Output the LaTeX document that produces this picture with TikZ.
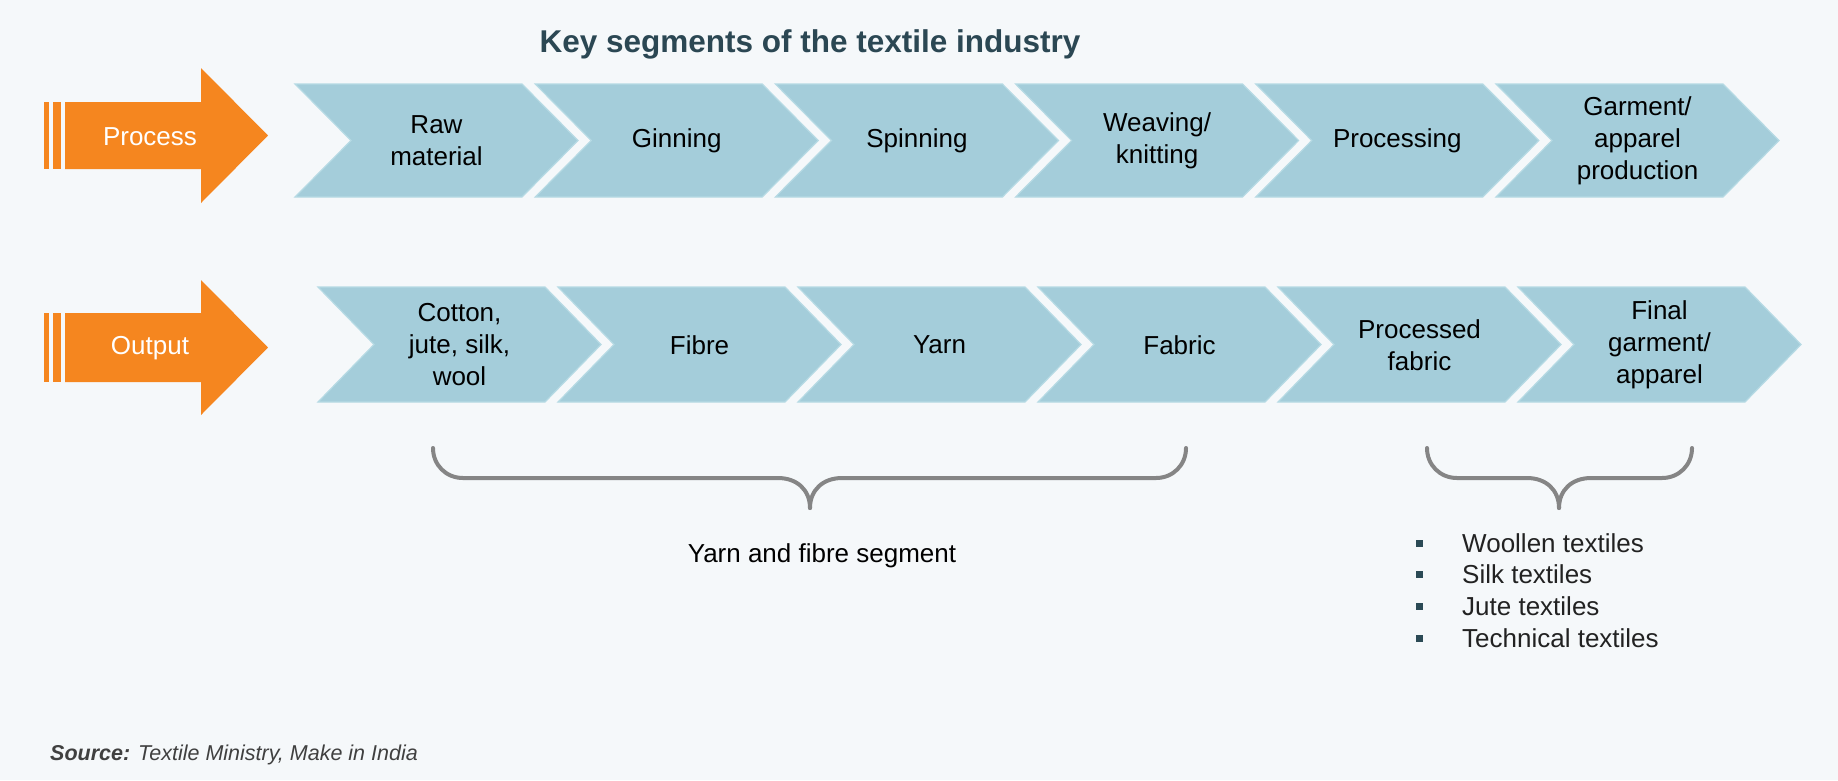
\documentclass[tikz,border=0pt]{standalone}
\usepackage{fontspec}
\setmainfont{Liberation Sans}
\definecolor{bg}{HTML}{F5F8FA}
\definecolor{chev}{HTML}{A4CDDA}
\definecolor{chevedge}{HTML}{B6DAE4}
\definecolor{orng}{HTML}{F5861F}
\definecolor{titlec}{HTML}{2B4753}
\definecolor{bracec}{HTML}{858585}
\definecolor{bulletc}{HTML}{2B4A55}
\definecolor{srcc}{HTML}{404040}
\definecolor{listc}{HTML}{222222}
\begin{document}
\begin{tikzpicture}[x=1pt,y=-1pt,
  lbl/.style={font=\fontsize{26}{32}\selectfont, align=center, text=black, inner sep=0pt},
  arrlbl/.style={font=\fontsize{26}{31}\selectfont, text=white, inner sep=0pt},
  chevshape/.style={fill=chev, draw=chevedge, line width=1.2pt},
  bracepath/.style={draw=bracec, line width=4pt, line cap=round},
  listtxt/.style={font=\fontsize{26}{31}\selectfont, text=listc, inner sep=0pt, anchor=base west},
  bulletsq/.style={fill=bulletc}
]
\fill[bg] (0,0) rectangle (1838,780);
\useasboundingbox (0,0) rectangle (1838,780);

% title
\node[font=\bfseries\fontsize{31.5}{36}\selectfont, text=titlec, anchor=base, inner sep=0pt] (title) at (810,52) {Key segments of the textile industry};

% orange arrows
\fill[orng] (44,102) rectangle (48.6,169);
\fill[orng] (52.8,102) rectangle (61.2,169);
\fill[orng] (65,102) -- (201,102) -- (201,68) -- (268,135.5) -- (201,203) -- (201,169) -- (65,169) -- cycle;
\node[arrlbl] (process) at (150,137) {Process};

\fill[orng] (44,313) rectangle (48.6,382);
\fill[orng] (52.8,313) rectangle (61.2,382);
\fill[orng] (65,313) -- (201,313) -- (201,280) -- (268,347.5) -- (201,415) -- (201,382) -- (65,382) -- cycle;
\node[arrlbl] (output) at (150,348) {Output};

% process chevrons
\foreach \i/\txt in {0/{Raw\\material},1/{Ginning},2/{Spinning},3/{Weaving/\\knitting},4/{Processing},5/{Garment/\\apparel\\production}}{
  \pgfmathsetmacro\sx{295+240.2*\i}
  \path[chevshape] (\sx,84) -- ++(227,0) -- ++(56,56.5) -- ++(-56,56.5) -- ++(-227,0) -- ++(56,-56.5) -- cycle;
  \node[lbl] (p\i) at (\sx+141.5,140.5) {\txt};
}

% output chevrons
\foreach \i/\txt in {0/{Cotton,\\jute, silk,\\wool},1/{Fibre},2/{Yarn},3/{Fabric},4/{Processed\\fabric},5/{Final\\garment/\\apparel}}{
  \pgfmathsetmacro\sx{318+240*\i}
  \path[chevshape] (\sx,287) -- ++(227,0) -- ++(56,57.5) -- ++(-56,57.5) -- ++(-227,0) -- ++(56,-57.5) -- cycle;
  \node[lbl] (o\i) at (\sx+141.5,345) {\txt};
}

% braces
\draw[bracepath] (433,448) .. controls (433,465) and (446,478) .. (463,478) -- (778,478)
   .. controls (797,478) and (810,490) .. (810,508);
\draw[bracepath] (810,508) .. controls (810,490) and (823,478) .. (842,478) -- (1156,478)
   .. controls (1173,478) and (1186,465) .. (1186,448);
\node[lbl, anchor=base] (yarnseg) at (822,562) {Yarn and fibre segment};

\draw[bracepath] (1427,448) .. controls (1427,465) and (1440,478) .. (1457,478) -- (1527,478)
   .. controls (1546,478) and (1559,490) .. (1559,508);
\draw[bracepath] (1559,508) .. controls (1559,490) and (1572,478) .. (1591,478) -- (1662,478)
   .. controls (1679,478) and (1692,465) .. (1692,448);

% bullet list
\foreach \j/\txt in {0/Woollen textiles,1/Silk textiles,2/Jute textiles,3/Technical textiles}{
  \pgfmathsetmacro\yb{552+31.7*\j}
  \fill[bulletsq] (1416,\yb-12.5) rectangle (1423,\yb-5.5);
  \node[listtxt] (b\j) at (1462,\yb) {\txt};
}

% source
\node[font=\fontsize{21.5}{26}\selectfont, text=srcc, anchor=base west, inner sep=0pt] (source) at (50,760) {\textbf{\textit{Source:}} \textit{Textile Ministry, Make in India}};
\end{tikzpicture}
\end{document}
